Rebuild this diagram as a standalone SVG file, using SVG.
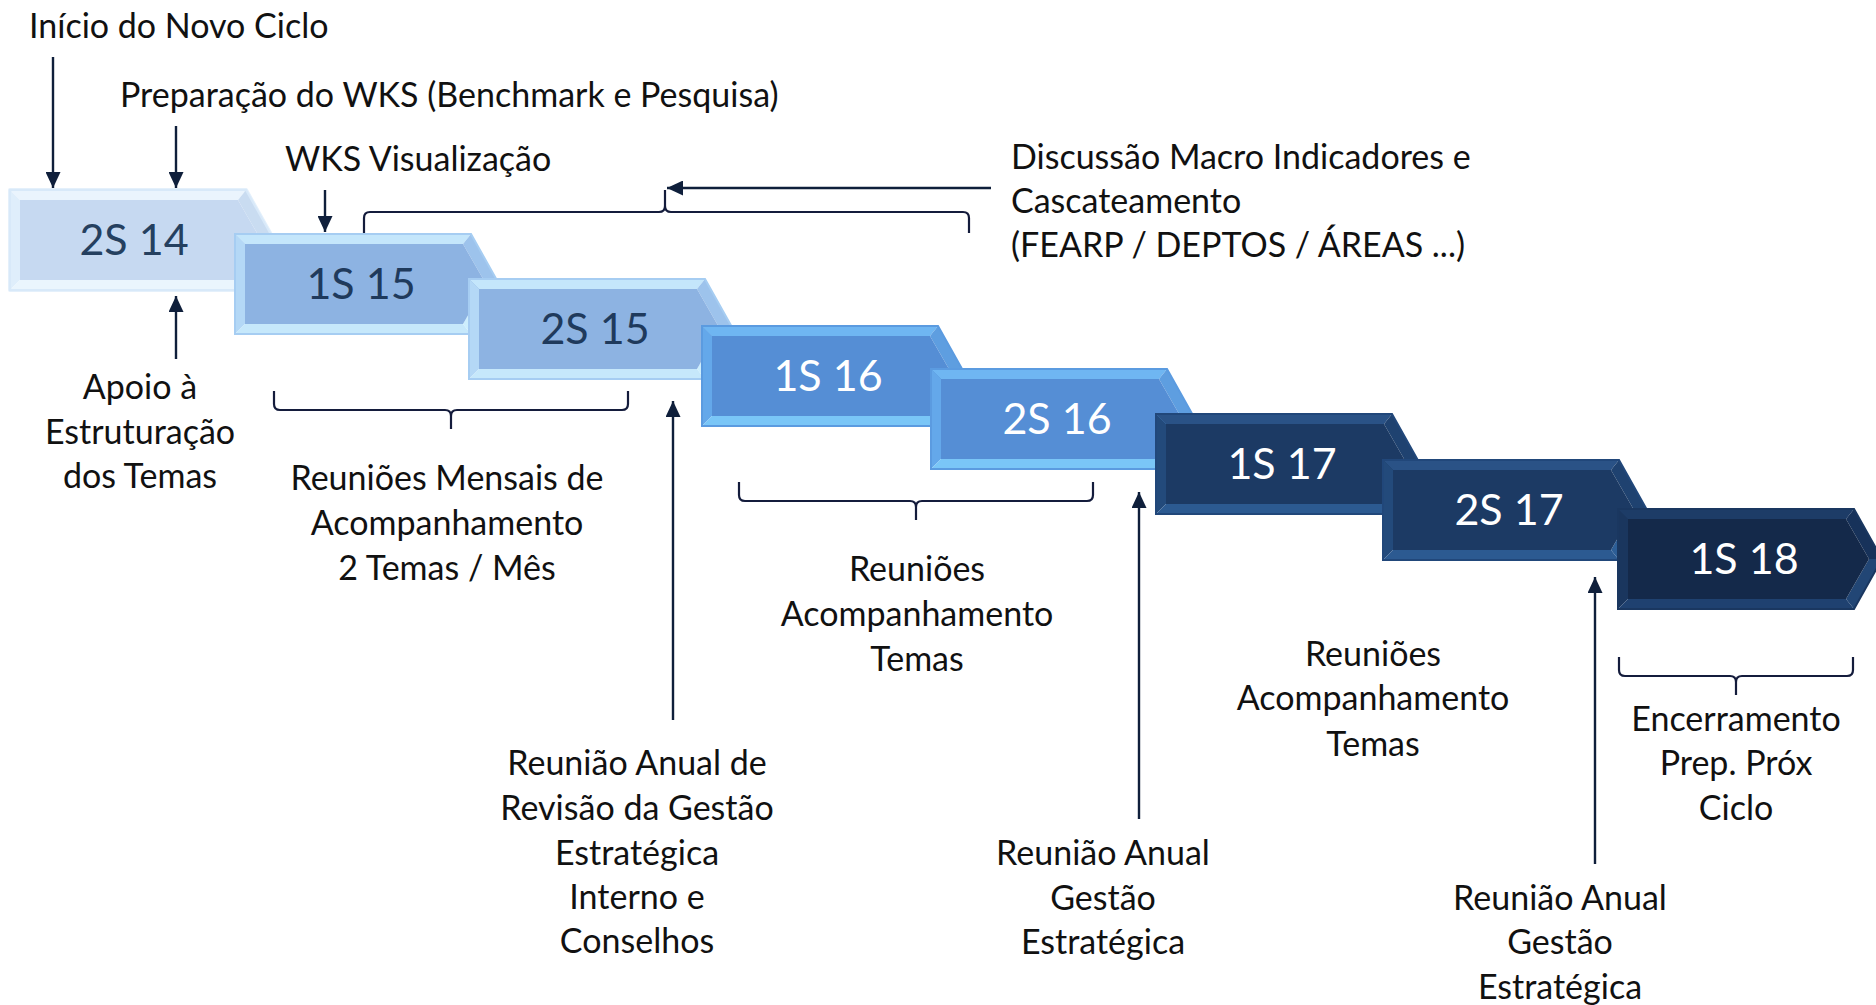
<svg xmlns="http://www.w3.org/2000/svg" width="1876" height="1005" viewBox="0 0 1876 1005">
<style>
  .lbl { font-family: Lato, "Liberation Sans", sans-serif; font-size: 34px; fill: #111; }
  .mid { text-anchor: middle; }
  .ntx { font-family: Lato, "Liberation Sans", sans-serif; font-size: 43px; text-anchor: middle; }
  .con { fill: none; stroke: #0f1f3b; stroke-width: 2.4; }
  .br { fill: none; stroke: #141c3c; stroke-width: 2.2; stroke-linejoin: round; }
  .A .face { fill: #c6d9f1; } .A .top { fill: #eaf4fd; } .A .left { fill: #dfeefb; } .A .bot { fill: #eaf5fd; } .A .rtop { fill: #c9dcf1; } .A .rbot { fill: #e6f3fd; } .A .edge { fill: none; stroke: #d8e9f9; stroke-width: 2; } .A text { fill: #25405f; }
  .B .face { fill: #8db3e2; } .B .top { fill: #c4e6fb; } .B .left { fill: #b4d8f6; } .B .bot { fill: #c6e8fb; } .B .rtop { fill: #9dc3ec; } .B .rbot { fill: #cdeefd; } .B .edge { fill: none; stroke: #a6cdf2; stroke-width: 2; } .B text { fill: #1f3a5c; }
  .C .face { fill: #558ed5; } .C .top { fill: #6fb6f2; } .C .left { fill: #64a8ea; } .C .bot { fill: #7ac6f7; } .C .rtop { fill: #5e9ee0; } .C .rbot { fill: #86d3fa; } .C .edge { fill: none; stroke: #5b9be0; stroke-width: 2; } .C text { fill: #ffffff; }
  .D .face { fill: #1c3a64; } .D .top { fill: #2a5286; } .D .left { fill: #234a7b; } .D .bot { fill: #2c5a91; } .D .rtop { fill: #1f4270; } .D .rbot { fill: #2d5e96; } .D .edge { fill: none; stroke: #21477a; stroke-width: 2; } .D text { fill: #ffffff; }
  .E .face { fill: #14294a; } .E .top { fill: #1d3c67; } .E .left { fill: #1a365e; } .E .bot { fill: #1f4170; } .E .rtop { fill: #17325a; } .E .rbot { fill: #224675; } .E .edge { fill: none; stroke: #1a3760; stroke-width: 2; } .E text { fill: #ffffff; }
  .glow { fill: none; stroke: #e4f0fb; stroke-width: 4; stroke-linejoin: round; }
</style>
<defs>
  <marker id="ah" markerUnits="userSpaceOnUse" markerWidth="16" markerHeight="15" refX="16" refY="7.5" orient="auto">
    <path d="M0,0 L16,7.5 L0,15 z" fill="#0f1f3b"/>
  </marker>
</defs>
<rect x="0" y="0" width="1876" height="1005" fill="#ffffff"/>

<g id="nodes">
  <g id="n-2S14" class="A" transform="translate(10,190)">
    <polygon class="glow" points="0,0 236,0 264,50 236,100 0,100"/>
    <polygon class="top" points="0,0 236,0 228,10 10,10"/>
    <polygon class="left" points="0,0 10,10 10,90 0,100"/>
    <polygon class="bot" points="0,100 10,90 228,90 236,100"/>
    <polygon class="rtop" points="236,0 264,50 251,50 228,10"/>
    <polygon class="rbot" points="264,50 236,100 228,90 251,50"/>
    <polygon class="face" points="10,10 228,10 251,50 228,90 10,90"/>
    <polygon class="edge" points="0,0 236,0 264,50 236,100 0,100"/>
    <text class="ntx" x="124" y="65">2S 14</text>
  </g>
  <g id="n-1S15" class="B" transform="translate(235,234)">
    <polygon class="top" points="0,0 236,0 228,10 10,10"/>
    <polygon class="left" points="0,0 10,10 10,90 0,100"/>
    <polygon class="bot" points="0,100 10,90 228,90 236,100"/>
    <polygon class="rtop" points="236,0 264,50 251,50 228,10"/>
    <polygon class="rbot" points="264,50 236,100 228,90 251,50"/>
    <polygon class="face" points="10,10 228,10 251,50 228,90 10,90"/>
    <polygon class="edge" points="0,0 236,0 264,50 236,100 0,100"/>
    <text class="ntx" x="126" y="65">1S 15</text>
  </g>
  <g id="n-2S15" class="B" transform="translate(469,279)">
    <polygon class="top" points="0,0 236,0 228,10 10,10"/>
    <polygon class="left" points="0,0 10,10 10,90 0,100"/>
    <polygon class="bot" points="0,100 10,90 228,90 236,100"/>
    <polygon class="rtop" points="236,0 264,50 251,50 228,10"/>
    <polygon class="rbot" points="264,50 236,100 228,90 251,50"/>
    <polygon class="face" points="10,10 228,10 251,50 228,90 10,90"/>
    <polygon class="edge" points="0,0 236,0 264,50 236,100 0,100"/>
    <text class="ntx" x="126" y="65">2S 15</text>
  </g>
  <g id="n-1S16" class="C" transform="translate(702,326)">
    <polygon class="top" points="0,0 236,0 228,10 10,10"/>
    <polygon class="left" points="0,0 10,10 10,90 0,100"/>
    <polygon class="bot" points="0,100 10,90 228,90 236,100"/>
    <polygon class="rtop" points="236,0 264,50 251,50 228,10"/>
    <polygon class="rbot" points="264,50 236,100 228,90 251,50"/>
    <polygon class="face" points="10,10 228,10 251,50 228,90 10,90"/>
    <polygon class="edge" points="0,0 236,0 264,50 236,100 0,100"/>
    <text class="ntx" x="126" y="65">1S 16</text>
  </g>
  <g id="n-2S16" class="C" transform="translate(931,369)">
    <polygon class="top" points="0,0 236,0 228,10 10,10"/>
    <polygon class="left" points="0,0 10,10 10,90 0,100"/>
    <polygon class="bot" points="0,100 10,90 228,90 236,100"/>
    <polygon class="rtop" points="236,0 264,50 251,50 228,10"/>
    <polygon class="rbot" points="264,50 236,100 228,90 251,50"/>
    <polygon class="face" points="10,10 228,10 251,50 228,90 10,90"/>
    <polygon class="edge" points="0,0 236,0 264,50 236,100 0,100"/>
    <text class="ntx" x="126" y="65">2S 16</text>
  </g>
  <g id="n-1S17" class="D" transform="translate(1156,414)">
    <polygon class="top" points="0,0 236,0 228,10 10,10"/>
    <polygon class="left" points="0,0 10,10 10,90 0,100"/>
    <polygon class="bot" points="0,100 10,90 228,90 236,100"/>
    <polygon class="rtop" points="236,0 264,50 251,50 228,10"/>
    <polygon class="rbot" points="264,50 236,100 228,90 251,50"/>
    <polygon class="face" points="10,10 228,10 251,50 228,90 10,90"/>
    <polygon class="edge" points="0,0 236,0 264,50 236,100 0,100"/>
    <text class="ntx" x="126" y="65">1S 17</text>
  </g>
  <g id="n-2S17" class="D" transform="translate(1383,460)">
    <polygon class="top" points="0,0 236,0 228,10 10,10"/>
    <polygon class="left" points="0,0 10,10 10,90 0,100"/>
    <polygon class="bot" points="0,100 10,90 228,90 236,100"/>
    <polygon class="rtop" points="236,0 264,50 251,50 228,10"/>
    <polygon class="rbot" points="264,50 236,100 228,90 251,50"/>
    <polygon class="face" points="10,10 228,10 251,50 228,90 10,90"/>
    <polygon class="edge" points="0,0 236,0 264,50 236,100 0,100"/>
    <text class="ntx" x="126" y="65">2S 17</text>
  </g>
  <g id="n-1S18" class="E" transform="translate(1618,509)">
    <polygon class="top" points="0,0 236,0 228,10 10,10"/>
    <polygon class="left" points="0,0 10,10 10,90 0,100"/>
    <polygon class="bot" points="0,100 10,90 228,90 236,100"/>
    <polygon class="rtop" points="236,0 264,50 251,50 228,10"/>
    <polygon class="rbot" points="264,50 236,100 228,90 251,50"/>
    <polygon class="face" points="10,10 228,10 251,50 228,90 10,90"/>
    <polygon class="edge" points="0,0 236,0 264,50 236,100 0,100"/>
    <text class="ntx" x="126" y="65">1S 18</text>
  </g>
</g>

<g id="connectors">
  <line class="con" x1="53" y1="57" x2="53" y2="188" marker-end="url(#ah)"/>
  <line class="con" x1="176" y1="126" x2="176" y2="188" marker-end="url(#ah)"/>
  <line class="con" x1="325" y1="190" x2="325" y2="232" marker-end="url(#ah)"/>
  <line class="con" x1="176" y1="359" x2="176" y2="296" marker-end="url(#ah)"/>
  <line class="con" x1="673" y1="720" x2="673" y2="401" marker-end="url(#ah)"/>
  <line class="con" x1="1139" y1="819" x2="1139" y2="492" marker-end="url(#ah)"/>
  <line class="con" x1="1595" y1="864" x2="1595" y2="577" marker-end="url(#ah)"/>
  <line class="con" x1="991" y1="188" x2="667" y2="188" marker-end="url(#ah)"/>
  <path class="br" d="M364,233 V218 Q364,212 370,212 H659 Q665,212 665,206 V190 M665,206 Q665,212 671,212 H963 Q969,212 969,218 V233"/>
  <path class="br" d="M274,391 V404 Q274,410 280,410 H445 Q451,410 451,416 V429 M451,416 Q451,410 457,410 H622 Q628,410 628,404 V391"/>
  <path class="br" d="M739,482 V495 Q739,501 745,501 H910 Q916,501 916,507 V520 M916,507 Q916,501 922,501 H1087 Q1093,501 1093,495 V482"/>
  <path class="br" d="M1619,657 V670 Q1619,676 1625,676 H1730 Q1736,676 1736,682 V695 M1736,682 Q1736,676 1742,676 H1847 Q1853,676 1853,670 V657"/>
</g>

<g id="labels">
  <text class="lbl" x="29" y="38">Início do Novo Ciclo</text>
  <text class="lbl" x="120" y="107">Preparação do WKS (Benchmark e Pesquisa)</text>
  <text class="lbl" x="285" y="171">WKS Visualização</text>
  <text class="lbl" x="1011" y="169">Discussão Macro Indicadores e</text>
  <text class="lbl" x="1011" y="213">Cascateamento</text>
  <text class="lbl" x="1011" y="257">(FEARP / DEPTOS / ÁREAS ...)</text>
  <text class="lbl mid" x="140" y="399">Apoio à</text>
  <text class="lbl mid" x="140" y="444">Estruturação</text>
  <text class="lbl mid" x="140" y="488">dos Temas</text>
  <text class="lbl mid" x="447" y="490">Reuniões Mensais de</text>
  <text class="lbl mid" x="447" y="535">Acompanhamento</text>
  <text class="lbl mid" x="447" y="580">2 Temas / Mês</text>
  <text class="lbl mid" x="637" y="775">Reunião Anual de</text>
  <text class="lbl mid" x="637" y="820">Revisão da Gestão</text>
  <text class="lbl mid" x="637" y="865">Estratégica</text>
  <text class="lbl mid" x="637" y="909">Interno e</text>
  <text class="lbl mid" x="637" y="953">Conselhos</text>
  <text class="lbl mid" x="917" y="581">Reuniões</text>
  <text class="lbl mid" x="917" y="626">Acompanhamento</text>
  <text class="lbl mid" x="917" y="671">Temas</text>
  <text class="lbl mid" x="1103" y="865">Reunião Anual</text>
  <text class="lbl mid" x="1103" y="910">Gestão</text>
  <text class="lbl mid" x="1103" y="954">Estratégica</text>
  <text class="lbl mid" x="1373" y="666">Reuniões</text>
  <text class="lbl mid" x="1373" y="710">Acompanhamento</text>
  <text class="lbl mid" x="1373" y="756">Temas</text>
  <text class="lbl mid" x="1560" y="910">Reunião Anual</text>
  <text class="lbl mid" x="1560" y="954">Gestão</text>
  <text class="lbl mid" x="1560" y="999">Estratégica</text>
  <text class="lbl mid" x="1736" y="731">Encerramento</text>
  <text class="lbl mid" x="1736" y="775">Prep. Próx</text>
  <text class="lbl mid" x="1736" y="820">Ciclo</text>
</g>
</svg>
